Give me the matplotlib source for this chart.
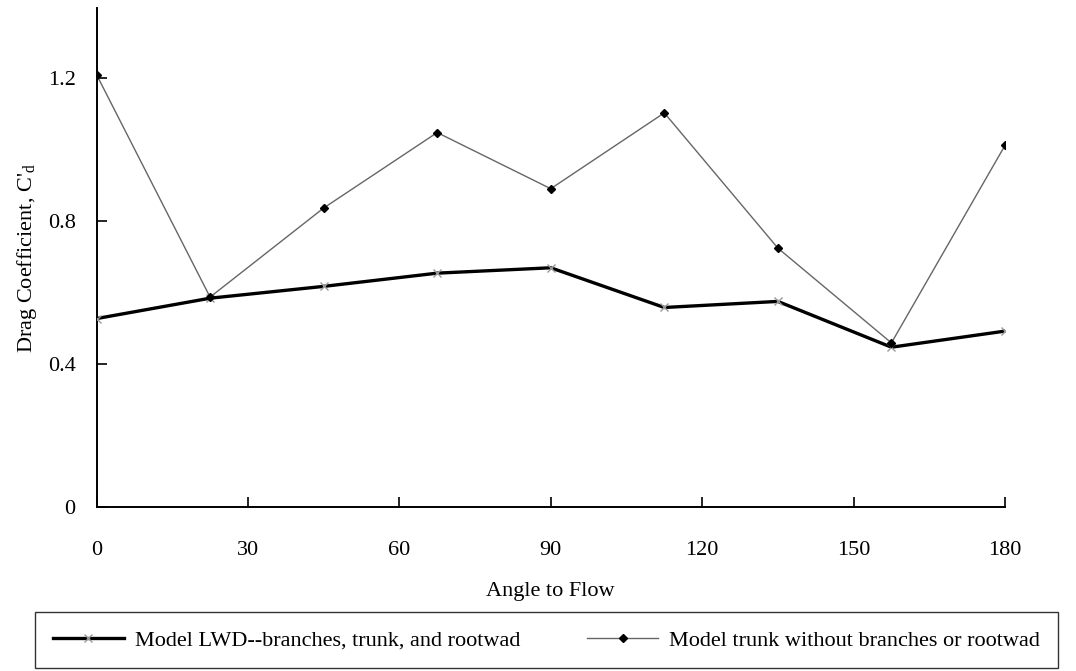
import matplotlib
matplotlib.use("Agg")
import matplotlib.pyplot as plt

angles = [0, 22.5, 45, 67.5, 90, 112.5, 135, 157.5, 180]
lwd_full = [0.528, 0.585, 0.618, 0.655, 0.670, 0.559, 0.576, 0.448, 0.493]
trunk_only = [1.21, 0.588, 0.837, 1.048, 0.891, 1.103, 0.725, 0.460, 1.012]
x_ticks = [0, 30, 60, 90, 120, 150, 180]
y_ticks = [0, 0.4, 0.8, 1.2]
y_tick_labels = ["0", "0.4", "0.8", "1.2"]
label_lwd = "Model LWD--branches, trunk, and rootwad"
label_trunk = "Model trunk without branches or rootwad"

plt.rcParams['font.family'] = ['Liberation Serif', 'DejaVu Serif']
plt.rcParams['mathtext.fontset'] = 'custom'
plt.rcParams['mathtext.rm'] = 'Liberation Serif'
plt.rcParams['mathtext.it'] = 'Liberation Serif'

FS = 16

fig = plt.figure(figsize=(10.76, 6.71), dpi=100)
ax = fig.add_axes([0.0897, 0.2437, 0.8443, 0.7443])

ax.plot(angles, lwd_full, color='black', lw=2.4, marker='x', markersize=6,
        markeredgecolor='#999999', markeredgewidth=1.0, label=label_lwd, zorder=3)
ax.plot(angles, trunk_only, color='#666666', lw=1.0, marker='D', markersize=4.5,
        markerfacecolor='black', markeredgecolor='black', label=label_trunk, zorder=4)

ax.set_xlim(0, 180)
ax.set_ylim(0, 1.396)
ax.set_xticks(x_ticks)
ax.set_yticks(y_ticks)
ax.set_yticklabels(y_tick_labels)
for s in ['top', 'right']:
    ax.spines[s].set_visible(False)
for s in ['left', 'bottom']:
    ax.spines[s].set_linewidth(1.4)
ax.tick_params(direction='in', length=7, width=1.2, labelsize=FS)
ax.tick_params(axis='x', pad=24)
ax.tick_params(axis='y', pad=15)
ax.set_xlabel("Angle to Flow", fontsize=FS, labelpad=16)
ax.set_ylabel(r"Drag Coefficient, C$'_{\mathrm{d}}$", fontsize=FS, labelpad=6)

leg = fig.legend(loc='lower center', ncol=2, bbox_to_anchor=(0.508, 0.004),
                 fontsize=FS, frameon=True, fancybox=False,
                 edgecolor='black', handlelength=3.2, handletextpad=0.5,
                 columnspacing=3.0, borderpad=0.8, borderaxespad=0)
leg.get_frame().set_linewidth(1.0)

fig.savefig("out.png", dpi=100)
